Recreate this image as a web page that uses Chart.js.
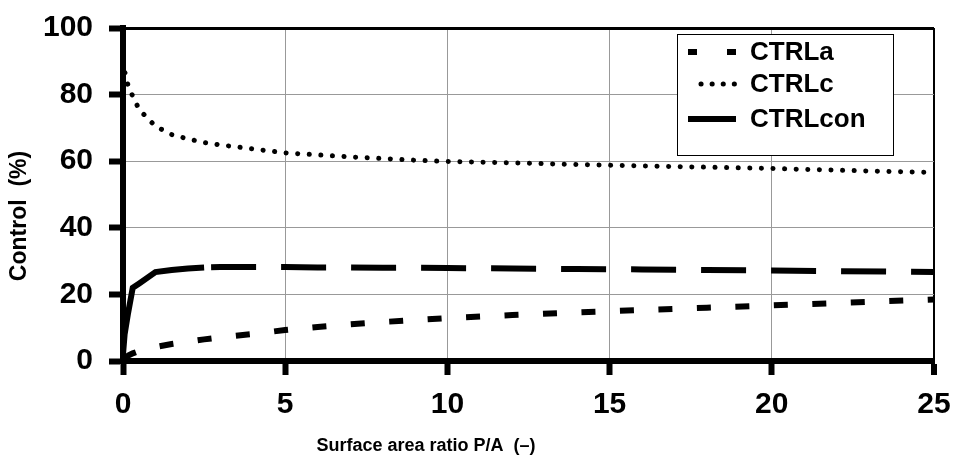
<!DOCTYPE html>
<html>
<head>
<meta charset="utf-8">
<script src="https://cdn.jsdelivr.net/npm/chart.js@4.4.1/dist/chart.umd.min.js"></script>
<style>
  html, body { margin: 0; padding: 0; background: #fff; }
  #wrap { width: 964px; height: 474px; }
</style>
</head>
<body>
<div id="wrap"><canvas id="chart" width="964" height="474"></canvas></div>
<script>
// x positions of the plotted points (surface area ratio P/A)
var ratios = [0, 0.05, 0.15, 0.3, 0.5, 1, 1.5, 2, 2.5, 3, 4, 5, 6, 7, 8, 9, 10, 12, 14, 16, 18, 20, 22, 25];

// control (%)
var ctrlA   = [1, 1.2, 1.6, 2.3, 3, 4.2, 5.1, 5.8, 6.5, 7.1, 8.1, 9.3, 10.2, 11, 11.7, 12.3, 12.9, 13.8, 14.6, 15.3, 16, 16.7, 17.4, 18.5];
var ctrlC   = [90, 87, 83, 79.5, 75.5, 70.5, 68, 66.7, 65.6, 64.9, 63.7, 62.5, 61.9, 61.3, 60.8, 60.3, 59.9, 59.5, 59, 58.6, 58.2, 57.8, 57.3, 56.6];
var ctrlCon = [2, 8, 14, 22, 23.3, 26.7, 27.3, 27.8, 28.1, 28.2, 28.2, 28.2, 28.1, 28.1, 28, 28, 27.9, 27.8, 27.6, 27.5, 27.3, 27.2, 27, 26.7];

var seriesNames = ["CTRLa", "CTRLc", "CTRLcon"];
var xTicks = [0, 5, 10, 15, 20, 25];
var yTicks = [0, 20, 40, 60, 80, 100];
var xTitle = "Surface area ratio P/A  (\u2013)";
var yTitle = "Control  (%)";

var FONT = '"Liberation Sans", Arial, Helvetica, sans-serif';

function toPoints(ys) {
  return ratios.map(function (x, i) { return { x: x, y: ys[i] }; });
}

// axis titles (placed like the original, not centred on the plot)
var titlesPlugin = {
  id: "titles",
  afterDraw: function (chart) {
    var ctx = chart.ctx;
    ctx.save();
    ctx.fillStyle = "#000";
    ctx.textAlign = "center";
    ctx.textBaseline = "middle";
    ctx.font = "bold 18px " + FONT;
    ctx.fillText(xTitle, 426, 446);
    ctx.font = "bold 23px " + FONT;
    ctx.translate(20, 216);
    ctx.rotate(-Math.PI / 2);
    ctx.fillText(yTitle, 0, 0);
    ctx.restore();
  }
};

// boxed legend inside the plot, top right
var legendPlugin = {
  id: "boxLegend",
  afterDatasetsDraw: function (chart) {
    var ctx = chart.ctx;
    var box = { x: 677, y: 34, w: 216, h: 121 };
    var rows = [52, 84, 119];
    ctx.save();
    ctx.fillStyle = "#fff";
    ctx.fillRect(box.x, box.y, box.w, box.h);
    ctx.strokeStyle = "#000";
    ctx.lineWidth = 1;
    ctx.strokeRect(box.x + 0.5, box.y + 0.5, box.w, box.h);

    chart.data.datasets.forEach(function (ds, i) {
      var y = rows[i];
      ctx.strokeStyle = "#000";
      ctx.lineWidth = ds.borderWidth;
      ctx.lineCap = ds.borderCapStyle || "butt";
      ctx.setLineDash(ds.legendDash || []);
      ctx.beginPath();
      ctx.moveTo(ds.legendFrom || 688, y);
      ctx.lineTo(736, y);
      ctx.stroke();
      ctx.setLineDash([]);
      ctx.fillStyle = "#000";
      ctx.font = "bold 26px " + FONT;
      ctx.textAlign = "left";
      ctx.textBaseline = "middle";
      ctx.fillText(ds.label, 750, y + 1);
    });
    ctx.restore();
  }
};

var ctx = document.getElementById("chart").getContext("2d");
var chart = new Chart(ctx, {
  type: "line",
  data: {
    datasets: [
      {
        label: seriesNames[0],
        data: toPoints(ctrlA),
        borderColor: "#000",
        borderWidth: 6,
        borderDash: [14, 24.5],
        legendDash: [9, 30],
        pointRadius: 0,
        fill: false
      },
      {
        label: seriesNames[1],
        data: toPoints(ctrlC),
        borderColor: "#000",
        borderWidth: 5,
        borderCapStyle: "round",
        borderDash: [0.1, 11.5],
        legendDash: [0.1, 11],
        legendFrom: 701,
        pointRadius: 0,
        fill: false
      },
      {
        label: seriesNames[2],
        data: toPoints(ctrlCon),
        borderColor: "#000",
        borderWidth: 6,
        borderDash: [],
        segment: {
          borderDash: function (c) { return c.p1.parsed.x > 2.5 ? [45, 25] : []; },
          borderDashOffset: function (c) { return c.p1.parsed.x > 2.5 ? 63 : 0; }
        },
        pointRadius: 0,
        fill: false
      }
    ]
  },
  options: {
    responsive: false,
    animation: false,
    devicePixelRatio: 1,
    layout: { padding: { left: 0, right: 30, top: 28, bottom: 0 } },
    plugins: {
      legend: { display: false },
      tooltip: { enabled: false }
    },
    scales: {
      x: {
        type: "linear",
        min: 0,
        max: 25,
        afterBuildTicks: function (s) { s.ticks = xTicks.map(function (v) { return { value: v }; }); },
        afterFit: function (s) {
          s.height = 113;
          s.paddingLeft = 0;
          s.paddingRight = 0;
        },
        ticks: {
          color: "#000",
          font: { family: FONT, size: 30, weight: "bold" },
          padding: 12,
          maxRotation: 0
        },
        grid: {
          color: function (c) { return c.tick && c.tick.value === 25 ? "#000" : "#999"; },
          lineWidth: function (c) { return c.tick && c.tick.value === 25 ? 2 : 1; },
          tickLength: 14,
          tickWidth: 6,
          tickColor: "#000"
        },
        border: { color: "#000", width: 6 }
      },
      y: {
        min: 0,
        max: 100,
        afterBuildTicks: function (s) { s.ticks = yTicks.map(function (v) { return { value: v }; }); },
        afterFit: function (s) {
          s.width = 123;
          s.paddingTop = 0;
          s.paddingBottom = 0;
        },
        ticks: {
          color: "#000",
          font: { family: FONT, size: 30, weight: "bold" },
          padding: 16
        },
        grid: {
          color: function (c) { return c.tick && c.tick.value === 100 ? "#000" : "#999"; },
          lineWidth: function (c) { return c.tick && c.tick.value === 100 ? 3 : 1; },
          tickLength: 14,
          tickWidth: 6,
          tickColor: "#000"
        },
        border: { color: "#000", width: 6 }
      }
    }
  },
  plugins: [titlesPlugin, legendPlugin]
});
</script>
</body>
</html>
